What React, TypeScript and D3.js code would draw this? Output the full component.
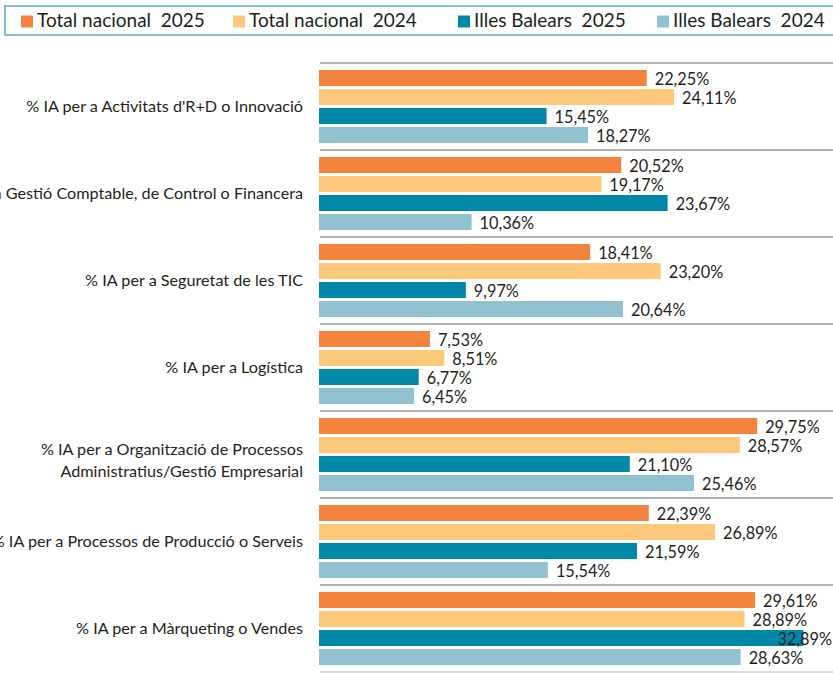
import React, { useRef, useEffect } from 'react';
import * as d3 from 'd3';

const categories = [
  ["% IA per a Activitats d'R+D o Innovació"],
  ['% IA per a Gestió Comptable, de Control o Financera'],
  ['% IA per a Seguretat de les TIC'],
  ['% IA per a Logística'],
  ['% IA per a Organització de Processos', 'Administratius/Gestió Empresarial'],
  ['% IA per a Processos de Producció o Serveis'],
  ['% IA per a Màrqueting o Vendes']
];

const seriesNames = ['Total nacional  2025', 'Total nacional  2024', 'Illes Balears  2025', 'Illes Balears  2024'];
const seriesColors = ['#F3833D', '#FCC97B', '#0088A9', '#92C1D2'];

const nacional2025 = [22.25, 20.52, 18.41, 7.53, 29.75, 22.39, 29.61];
const nacional2024 = [24.11, 19.17, 23.2, 8.51, 28.57, 26.89, 28.89];
const balears2025 = [15.45, 23.67, 9.97, 6.77, 21.1, 21.59, 32.89];
const balears2024 = [18.27, 10.36, 20.64, 6.45, 25.46, 15.54, 28.63];

const seriesValues = [nacional2025, nacional2024, balears2025, balears2024];

const W = 833;
const H = 673;
const FONT = 'Lato, sans-serif';
const TEXT = '#231F20';

const App = () => {
  const ref = useRef<SVGSVGElement>(null);

  useEffect(() => {
    document.body.style.margin = '0';
    const svg = d3.select(ref.current);
    svg.selectAll('*').remove();

    const plotLeft = 319;
    const plotTop = 63;
    const plotBottom = 672;

    const x = d3.scaleLinear().domain([0, 35]).range([plotLeft, plotLeft + 515.5]);
    const y0 = d3.scaleBand<number>()
      .domain(categories.map((_, i) => i))
      .range([plotTop, plotBottom]);
    // inner band: 4 bars of ~16px on a 19px step
    const y1 = d3.scaleBand<number>()
      .domain(seriesNames.map((_, i) => i))
      .range([7, y0.bandwidth() - 7])
      .paddingInner(0.158)
      .paddingOuter(0);

    // legend
    const legendX = [21, 233, 458, 657];
    svg.append('rect')
      .attr('x', 5).attr('y', 6)
      .attr('width', W + 10).attr('height', 29)
      .attr('fill', 'none')
      .attr('stroke', '#5AAAC4')
      .attr('stroke-width', 1.5);
    const legend = svg.selectAll('.legend').data(seriesNames)
      .enter().append('g')
      .attr('class', 'legend')
      .attr('transform', (d, i) => 'translate(' + legendX[i] + ',0)');
    legend.append('rect')
      .attr('x', 0).attr('y', 15.5)
      .attr('width', 12).attr('height', 12)
      .attr('fill', (d, i) => seriesColors[i]);
    legend.append('text')
      .attr('x', 16).attr('y', 27)
      .attr('font-family', FONT).attr('font-size', 19)
      .attr('fill', TEXT)
      .style('white-space', 'pre')
      .text(d => d);

    // separators (the bottom one is lighter)
    const seps = d3.range(categories.length + 1).map(i => (i < categories.length ? y0(i)! : plotBottom));
    svg.append('g').selectAll('line').data(seps)
      .enter().append('line')
      .attr('x1', plotLeft + 1).attr('x2', W)
      .attr('y1', d => d).attr('y2', d => d)
      .attr('stroke', (d, i) => (i === categories.length ? '#CFCFCF' : '#9A9A9A'))
      .attr('stroke-width', 1.6);

    // bars
    const groups = svg.append('g').selectAll('g').data(categories)
      .enter().append('g')
      .attr('transform', (d, i) => 'translate(0,' + y0(i) + ')');

    groups.each(function (_, ci) {
      const g = d3.select(this);
      seriesValues.forEach((vals, si) => {
        const v = vals[ci];
        g.append('rect')
          .attr('x', x(0))
          .attr('y', y1(si)!)
          .attr('width', x(v) - x(0))
          .attr('height', y1.bandwidth())
          .attr('fill', seriesColors[si]);
        const t = g.append('text')
          .attr('y', y1(si)! + y1.bandwidth() / 2)
          .attr('dy', '0.4em')
          .attr('font-family', FONT).attr('font-size', 16.3)
          .attr('fill', TEXT)
          .text(v.toFixed(2).replace('.', ',') + '%');
        const len = (t.node() as SVGTextElement).getComputedTextLength();
        // keep labels inside the picture, overlapping the bar if needed
        t.attr('x', Math.min(x(v) + 8, W - len - 1));
      });

      // category label
      const lines = categories[ci];
      const label = g.append('text')
        .attr('text-anchor', 'end')
        .attr('font-family', FONT).attr('font-size', 16.2)
        .attr('fill', TEXT)
        .attr('y', y0.bandwidth() / 2);
      lines.forEach((line, li) => {
        label.append('tspan')
          .attr('x', 303)
          .attr('dy', li === 0 ? (lines.length > 1 ? '0.03em' : '0.35em') : '1.36em')
          .text(line);
      });
    });
  }, []);

  return <svg ref={ref} width={W} height={H} style={{ display: 'block' }}></svg>;
};

export default App;
